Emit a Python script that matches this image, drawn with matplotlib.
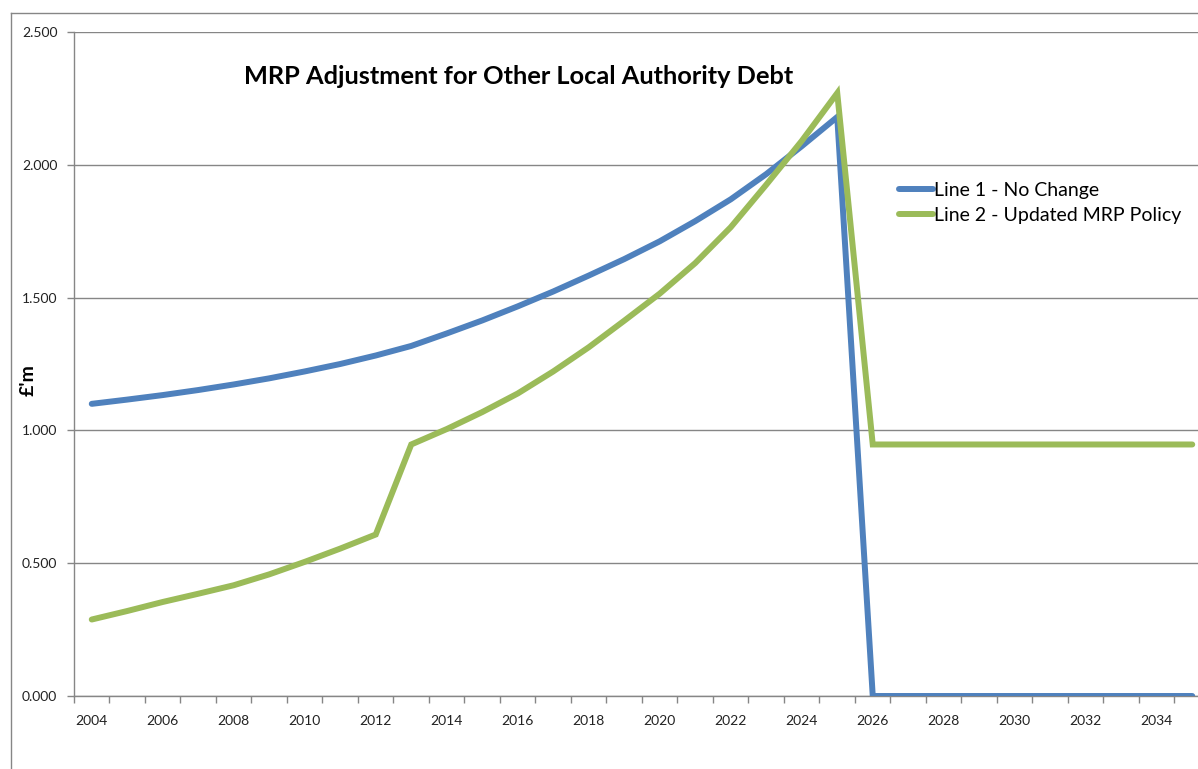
"""
MRP adjustment for other local authority debt, 2004-2035.

Two annual series of minimum revenue provision (in GBP millions): the
existing policy, which runs out after 2025, and the updated MRP policy,
which steps up in 2013 and settles at a flat charge from 2026 onwards.
Drawn in the style of a spreadsheet line chart on a category axis.

    python plot.py

Writes out.png.
"""

import matplotlib

matplotlib.use("Agg")
import matplotlib.pyplot as plt
from matplotlib.lines import Line2D

YEARS = list(range(2004, 2036))

NO_CHANGE = [
    1.100, 1.116, 1.133, 1.152, 1.173, 1.196, 1.222, 1.250, 1.282, 1.318,
    1.365, 1.414, 1.467, 1.523, 1.583, 1.645, 1.712, 1.788, 1.870, 1.965,
    2.070, 2.180, 0.000, 0.000, 0.000, 0.000, 0.000, 0.000, 0.000, 0.000,
    0.000, 0.000,
]

UPDATED_POLICY = [
    0.288, 0.320, 0.354, 0.385, 0.417, 0.458, 0.505, 0.555, 0.608, 0.947,
    1.005, 1.069, 1.139, 1.222, 1.313, 1.413, 1.515, 1.630, 1.765, 1.925,
    2.090, 2.270, 0.947, 0.947, 0.947, 0.947, 0.947, 0.947, 0.947, 0.947,
    0.947, 0.947,
]

SERIES_LABELS = ["Line 1 - No Change", "Line 2 - Updated MRP Policy"]
TITLE = "MRP Adjustment for Other Local Authority Debt"
Y_LABEL = "£'m"
Y_TICKS = [0.0, 0.5, 1.0, 1.5, 2.0, 2.5]
X_LABEL_YEARS = list(range(2004, 2035, 2))

BLUE = "#4f81bd"
GREEN = "#9bbb59"
AXIS_GREY = "#868686"

W, H = 1198, 769


def main() -> None:
    plt.rcParams["font.family"] = ["Lato", "DejaVu Sans"]

    fig = plt.figure(figsize=(W / 100, H / 100), dpi=100)
    fig.patch.set_facecolor("white")

    # plot area in pixels: left edge 74, top 32, bottom 696, runs off the right
    left, top, bottom = 74, 32, 696
    ax = fig.add_axes([left / W, 1 - bottom / H, 1 - left / W, (bottom - top) / H])

    for vals, colour, label in zip((NO_CHANGE, UPDATED_POLICY), (BLUE, GREEN), SERIES_LABELS):
        ax.plot(YEARS, vals, color=colour, lw=4.3, label=label,
                solid_capstyle="round", solid_joinstyle="miter", zorder=3)

    ax.set_yticks(Y_TICKS)
    ax.set_yticklabels([f"{v:.3f}" for v in Y_TICKS])
    ax.yaxis.grid(True, color=AXIS_GREY, lw=1.0)
    ax.set_axisbelow(True)

    # category axis: points sit mid-category, ticks on the boundaries
    ax.set_xticks([y - 0.5 for y in YEARS])
    ax.set_xticklabels([])
    ax.set_xticks(X_LABEL_YEARS, minor=True)
    ax.set_xticklabels([str(y) for y in X_LABEL_YEARS], minor=True)

    # limits last, so the tick calls above cannot widen them
    cat_w = 35.5
    ax.set_xlim(YEARS[0] - 0.5, YEARS[0] - 0.5 + (W - left) / cat_w)
    ax.set_ylim(0, 2.5)

    ax.tick_params(axis="both", which="major", direction="out", length=5,
                   width=1.0, color=AXIS_GREY, labelsize=10, labelcolor="#222222")
    ax.tick_params(axis="y", pad=7)
    ax.tick_params(axis="x", which="minor", length=0, pad=13.5,
                   labelsize=10, labelcolor="#222222")

    for side in ("top", "right"):
        ax.spines[side].set_visible(False)
    for side in ("left", "bottom"):
        ax.spines[side].set_color(AXIS_GREY)
        ax.spines[side].set_linewidth(1.0)

    fig.text(28 / W, 1 - 380 / H, Y_LABEL, fontsize=14, fontweight="bold",
             rotation=90, ha="center", va="center")

    fig.text(519 / W, 1 - 77 / H, TITLE, fontsize=18.3, fontweight="bold",
             ha="center", va="center")

    ax.legend(loc="upper left", bbox_to_anchor=(899 / W, 1 - 182 / H),
              bbox_transform=fig.transFigure, frameon=False, fontsize=14,
              handlelength=1.75, handletextpad=0.05, labelspacing=0.4,
              borderaxespad=0, borderpad=0)

    # chart area border (only its left and top edges fall inside the image)
    bx, by = 10.5 / W, 1 - 12.5 / H
    fig.add_artist(Line2D([bx, bx], [0, by], transform=fig.transFigure,
                          color=AXIS_GREY, lw=1.0))
    fig.add_artist(Line2D([bx, 1], [by, by], transform=fig.transFigure,
                          color=AXIS_GREY, lw=1.0))

    fig.savefig("out.png", dpi=100)
    plt.close(fig)


if __name__ == "__main__":
    main()
